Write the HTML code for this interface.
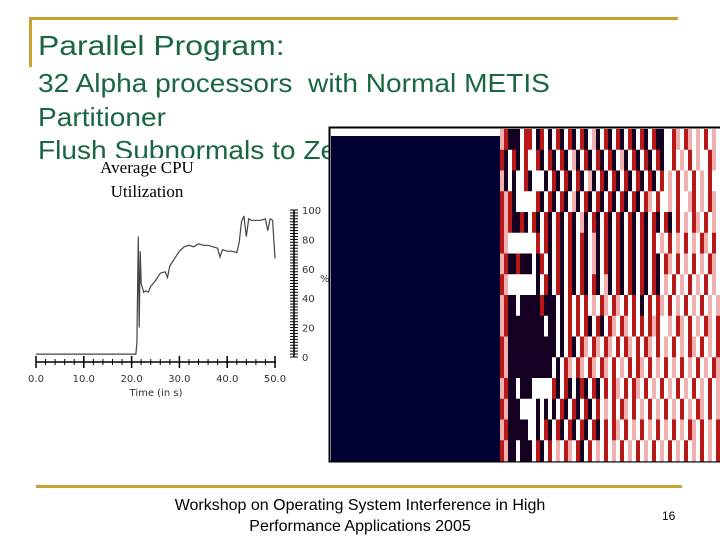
<!DOCTYPE html>
<html><head><meta charset="utf-8"><style>
body{margin:0;width:720px;height:540px;background:#fff;position:relative;overflow:hidden;font-family:"Liberation Sans",sans-serif}
.t{position:absolute;color:#1a6641;white-space:nowrap;transform-origin:0 0}
</style></head><body>
<div style="position:absolute;left:30px;top:17px;width:648px;height:3px;background:#c9a032"></div>
<div style="position:absolute;left:29px;top:17px;width:3px;height:50px;background:#c9a032"></div>
<div class="t" style="left:38px;top:29px;font-size:28px;line-height:34px;transform:scaleX(1.14)">Parallel Program:</div>
<div class="t" style="left:38px;top:67px;font-size:26px;line-height:32px;transform:scaleX(1.08)">32 Alpha processors&nbsp; with Normal METIS</div>
<div class="t" style="left:38px;top:101px;font-size:26px;line-height:32px;transform:scaleX(1.08)">Partitioner</div>
<div class="t" style="left:38px;top:134px;font-size:26px;line-height:32px;transform:scaleX(1.08)">Flush Subnormals to Zero</div>
<div style="position:absolute;left:62px;top:156px;width:170px;text-align:center;font-family:'Liberation Serif',serif;font-size:17px;line-height:24px"><span style="background:#fff">Average CPU</span><br>Utilization</div>
<svg id="cpu" style="position:absolute;left:0;top:0" width="330" height="410"></svg>
<svg id="hm" style="position:absolute;left:0;top:0" width="720" height="470"></svg>
<div style="position:absolute;left:36px;top:485px;width:646px;height:3px;background:#c9a032"></div>
<div style="position:absolute;left:130px;top:495px;width:460px;text-align:center;font-size:16px;line-height:21px">Workshop on Operating System Interference in High Performance Applications 2005</div>
<div style="position:absolute;left:662px;top:509px;font-size:12px">16</div>
<script>
const times=[0,20.9,21.1,21.4,21.6,21.8,22.0,22.2,22.5,23,23.5,24,25,26,27,27.5,28,29,30,31,32,33,34,35,36,37,38,38.5,39,40,41,42,42.5,43,43.5,44,44.5,45,46,47,48,48.5,49,49.5,50];
const cpuValues=[2,2,10,82,20,72,50,48,44,45,44,48,52,57,58,54,62,67,72,75,76,75,77,76,76,75,74,68,73,72,72,71,78,92,96,82,94,93,93,93,94,86,94,93,67];
const xTicks=[0,10,20,30,40,50];
const xTickLabels=["0.0","10.0","20.0","30.0","40.0","50.0"];
const yTicks=[0,20,40,60,80,100];
const heatRows=[
"prdddwrrwdrwdwrdwrdwrdwpdwrdwrdwrdwrdwrddwwrpwrpwpwrwpw",
"rdwrdwrwwrdwrdwrdwpdwrdwrdwrdwpdwrdwrdwrdwwrwpwrwpwwrpw",
"pdwdwwrdwwwdwrdwrdwrdwpdwrdwrdwrdwrdwrdwrwpwrwpwrwpwrww",
"rprdwwwwwrdwrdwrdwpdwrdwrdwrdwrdwrdwrpwrwwpwrwwprwpwrpw",
"rprddrdwrdwrdwrdwrdwpdwrdwrdwrdwrdwrdwrdwrdwrwpwrpwrwpw",
"rpwwwwwwwrwrdwrdwrdwrdwpdwrdwrdwrdwrdwrwpwrwpwrwpwrpwrw",
"prddrdddwdrwdwrdwrdwrdwpdwrdwrdwrdwrdwrdwrpwrwpwrwpwrpw",
"rpwwwwwwwdwrdwrdwrdwrdwrdwpdwrdwrdwrdwrdwpwrwpwrwpwrwpw",
"prddwdddddrdddwdwrwrwrwpwrpwrpwrwrwdwrwrpwrwpwrwpwrwpwp",
"prdddddddddwddwdwrwrwrdwrdwrpwrpwrwrwrprwwpwrpwrwpwrpwr",
"rpddddddddddddwdwrdwrpwrpwrpwrwrpwrwrpwrwpwrwpwrpwrwpwr",
"rpdddddddddddwdwrpwrpwrpwrpwrwpwrwrpwrwpwrwpwrwpwrwpwrp",
"prddwdddwwwwwrdwrdwdrdwrdwrwrpwrwrpwrwpwrwpwrwpwrwpwrwp",
"rpdddwwwwdwdwdwrdwrdwrdwrwpwrwrpwrwpwrwpwrwpwrwpwrpwrwp",
"prdddddwwdwrdwrdwrdwrdwrdwrwrpwrwpwrwpwrwpwrwpwrpwrwpwr",
"rpddwdddwrdwrwpwrpwrdwrwpwrwpwrwpwrwpwrwpwrwpwrwpwrwpwr"
];
const NS="http://www.w3.org/2000/svg";
function mk(p,tag,at){const e=document.createElementNS(NS,tag);for(const k in at)e.setAttribute(k,at[k]);p.appendChild(e);return e;}
const cpu=document.getElementById('cpu');
const X=t=>36+t*4.78, Y=v=>357-v*1.47;
let ax=mk(cpu,'line',{x1:36,y1:362,x2:276,y2:362,stroke:'#000','stroke-width':1.5});


for(let t=0;t<=50;t+=2){let l=mk(cpu,'line',{x1:X(t),y1:359,x2:X(t),y2:365,stroke:'#000'});}
xTicks.forEach((t,i)=>{
 let l=mk(cpu,'line',{x1:X(t),y1:356,x2:X(t),y2:368,stroke:'#000','stroke-width':1.5});
 
 
 let tx=mk(cpu,'text',{x:X(t),y:382,'text-anchor':'middle','font-size':10,'font-family':'DejaVu Sans, sans-serif',fill:'#333'});
 tx.textContent=xTickLabels[i];
 
 
});
let xt=mk(cpu,'text',{x:156,y:396,'text-anchor':'middle','font-size':10,'font-family':'DejaVu Sans, sans-serif',fill:'#333'});
xt.textContent='Time (in s)';


let ay=mk(cpu,'line',{x1:294,y1:Y(100),x2:294,y2:Y(0),stroke:'#000','stroke-width':1.5});


for(let v=0;v<=100;v+=2){let l=mk(cpu,'line',{x1:290,y1:Y(v),x2:298,y2:Y(v),stroke:'#000'});}
yTicks.forEach(v=>{
 let tx=mk(cpu,'text',{x:302,y:Y(v)+4,'font-size':10,'font-family':'DejaVu Sans, sans-serif',fill:'#333'});
 tx.textContent=String(v);
 
 
});
let yt=mk(cpu,'text',{x:320,y:282,'font-size':10,'font-family':'DejaVu Sans, sans-serif',fill:'#333'});
yt.textContent='%';


let pts=times.map((t,i)=>X(t).toFixed(1)+','+Y(cpuValues[i]).toFixed(1)).join(' ');
let pl=mk(cpu,'polyline',{points:pts,fill:'none',stroke:'#444','stroke-width':1.2});


const hm=document.getElementById('hm');
let fr=mk(hm,'rect',{x:329.5,y:127.5,width:392,height:334,fill:'#fff',stroke:'#000','stroke-width':2});


let dk=mk(hm,'rect',{x:331,y:136,width:169,height:325,fill:'#000033'});


const col={d:'#150022',r:'#b81818',w:'#ffffff',p:'#f0b0b0'};
const rh=(461-129)/heatRows.length, cw=(720-500)/heatRows[0].length;
heatRows.forEach((row,ri)=>{
 [...row].forEach((c,ci)=>{
  let r=mk(hm,'rect',{x:500+ci*cw,y:129+ri*rh,width:cw+0.3,height:rh+0.3,fill:col[c]});
  
  
 });
});
</script>
</body></html>
